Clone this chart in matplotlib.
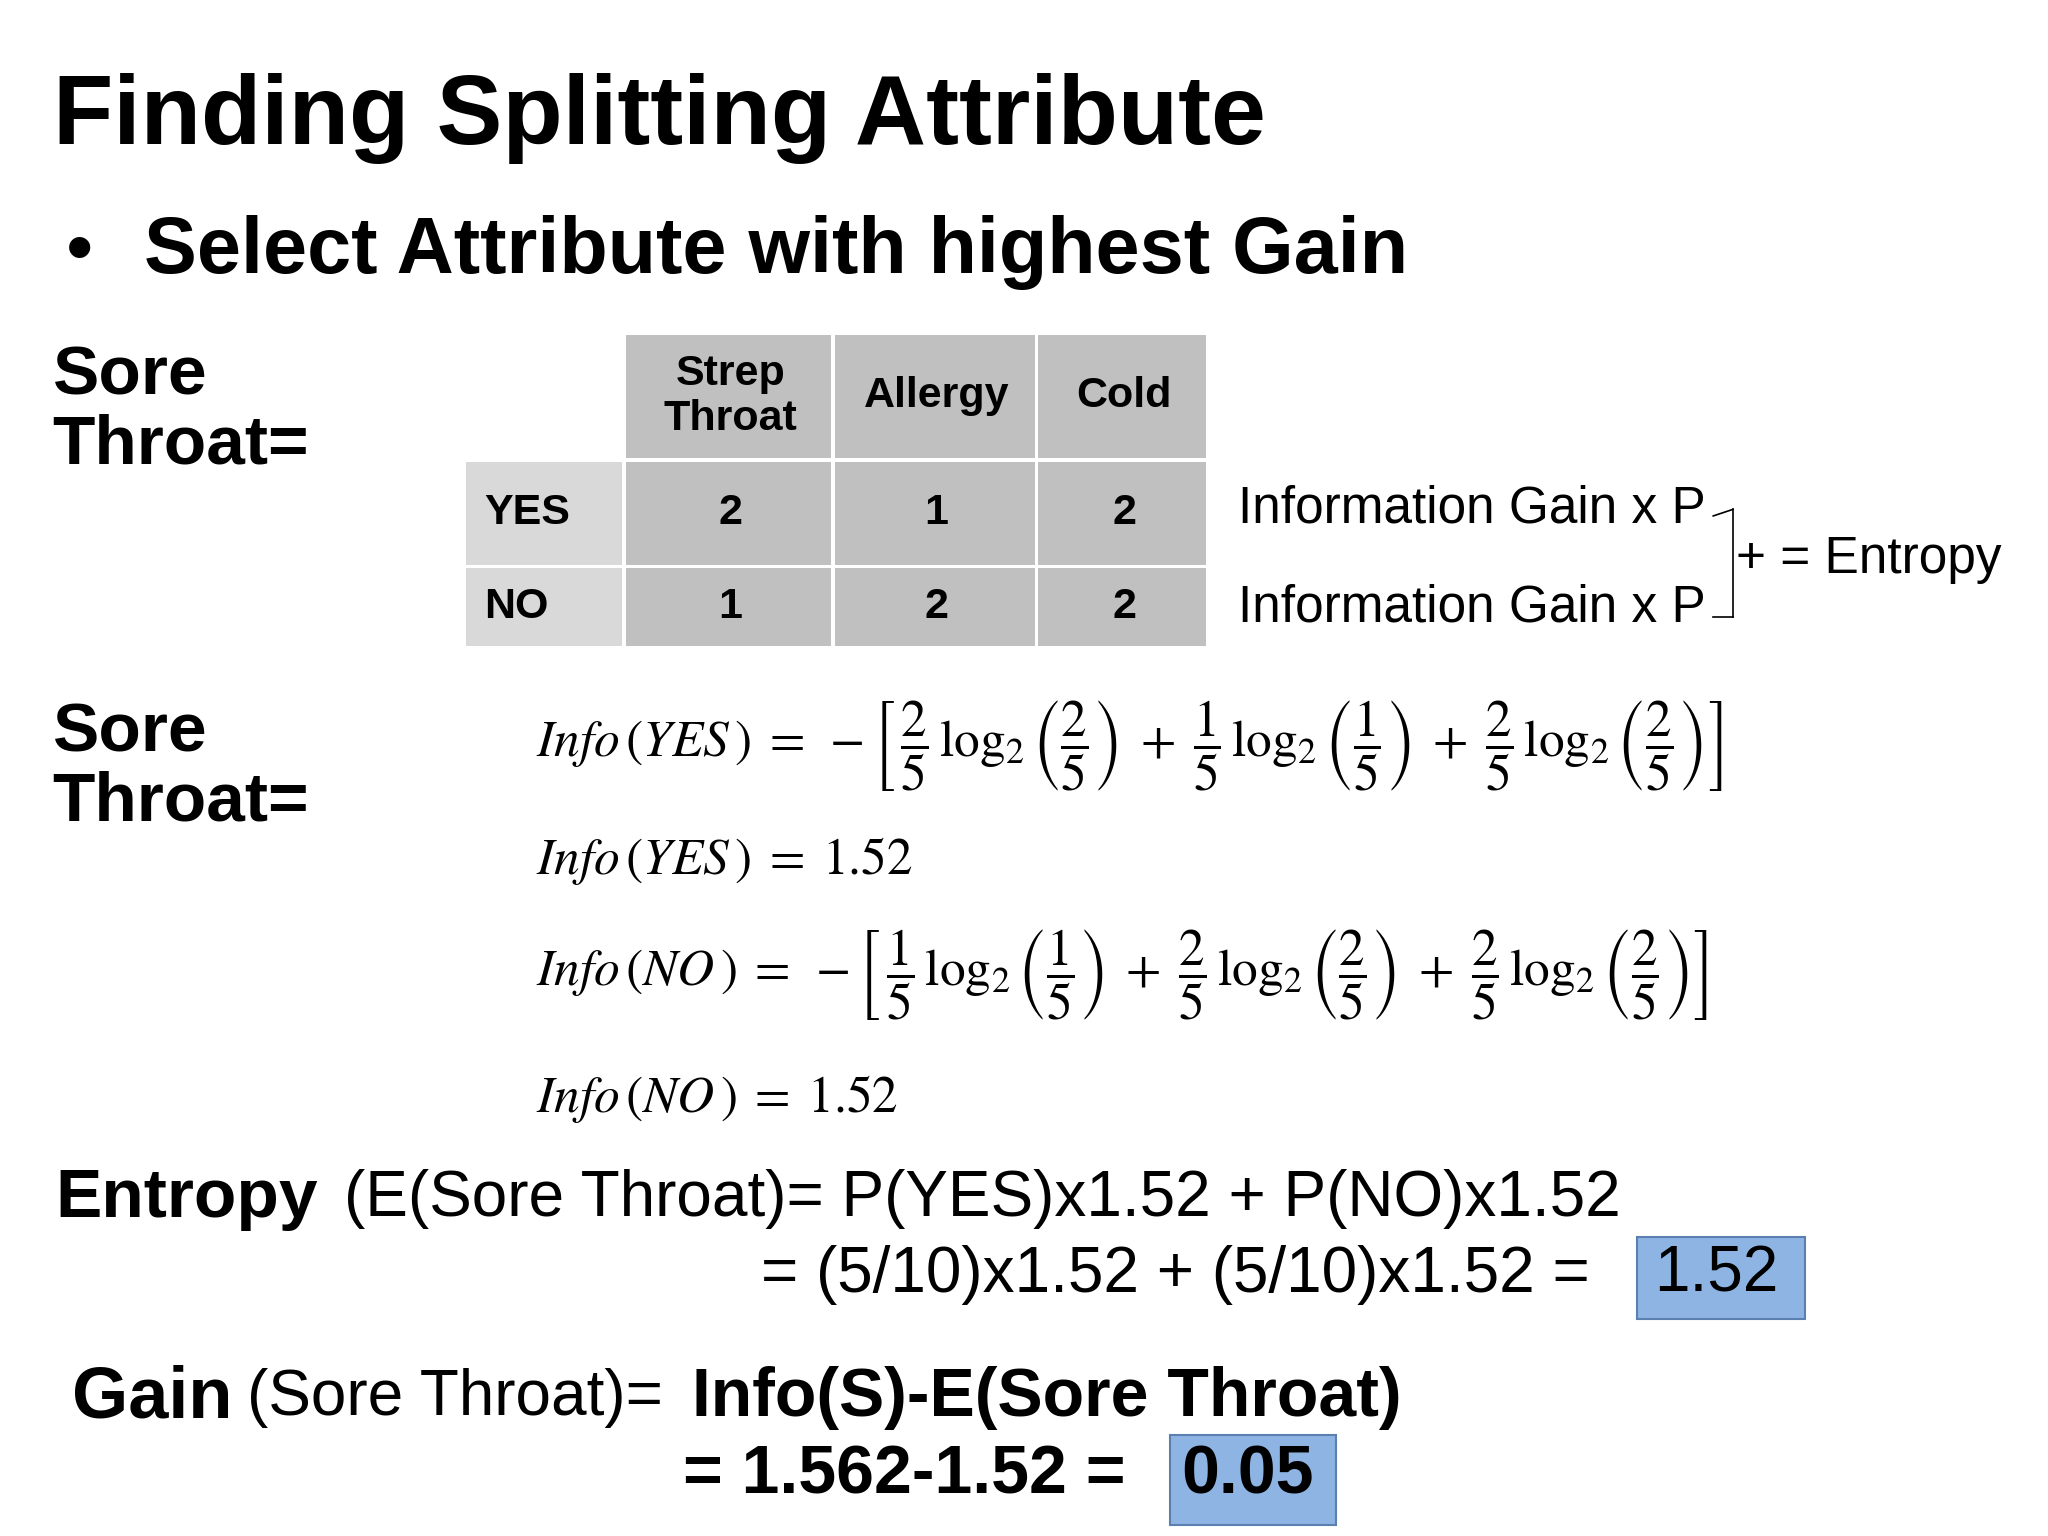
import matplotlib.pyplot as plt
from matplotlib import patches
from matplotlib.lines import Line2D

plt.rcParams['mathtext.fontset'] = 'stix'

W, H = 1560, 1170  # layout grid the positions below are measured in

title = "Finding Splitting Attribute"
bullet = "Select Attribute with highest Gain"
col_labels = ["Strep\nThroat", "Allergy", "Cold"]
row_labels = ["YES", "NO"]
counts = [[2, 1, 2], [1, 2, 2]]
info_yes = 1.52
info_no = 1.52
info_s = 1.562
entropy = 1.52
gain = 0.05

fig = plt.figure(figsize=(20.48, 15.36), dpi=100)
fig.patch.set_facecolor('white')


def fx(x):
    return x / W


def fy(y):
    return 1 - y / H


def txt(x, y, s, size, weight='normal', family='Arial', **kw):
    fig.text(fx(x), fy(y), s, fontsize=size, fontweight=weight,
             family=[family, 'Liberation Sans', 'DejaVu Sans'], va='center', **kw)


txt(40, 90, title, 71, 'bold')
txt(50, 192, "•", 56)
txt(110, 192, bullet, 57, 'bold')
txt(40, 313, "Sore\nThroat=", 50, 'bold', linespacing=1.1)
txt(40, 585, "Sore\nThroat=", 50, 'bold', linespacing=1.1)

# table
xs = [355, 477, 636, 791, 922]
ys = [255, 352, 433, 495]
gap = 3


def cell(x0, x1, y0, y1, color, label):
    fig.patches.append(patches.Rectangle((fx(x0), fy(y1 - gap)), fx(x1 - x0 - gap), (y1 - y0 - gap) / H,
                                         transform=fig.transFigure, facecolor=color, edgecolor='none'))
    ha = 'center' if x0 > 400 else 'left'
    tx = (x0 + x1) / 2 if ha == 'center' else x0 + 14
    fig.text(fx(tx), fy((y0 + y1 - gap) / 2), label, fontsize=31, fontweight='bold',
             family=['Liberation Sans', 'DejaVu Sans'], ha=ha, va='center', linespacing=1.15)


for j, lab in enumerate(col_labels):
    cell(xs[j + 1], xs[j + 2], ys[0], ys[1], '#c0c0c0', lab)
for i, lab in enumerate(row_labels):
    cell(xs[0], xs[1], ys[i + 1], ys[i + 2], '#d9d9d9', lab)
    for j in range(3):
        cell(xs[j + 1], xs[j + 2], ys[i + 1], ys[i + 2], '#c0c0c0', str(counts[i][j]))

txt(943, 388, "Information Gain x P", 37, family='Liberation Sans')
txt(943, 463, "Information Gain x P", 37, family='Liberation Sans')
txt(1322, 426, "+ = Entropy", 37, family='Liberation Sans')
for seg in [((1305, 1320), (393, 388)), ((1320, 1320), (388, 470)), ((1305, 1320), (470, 470))]:
    fig.lines.append(Line2D([fx(v) for v in seg[0]], [fy(v) for v in seg[1]],
                            transform=fig.transFigure, color='black', lw=1.2))


def fr(a, b):
    return r'\dfrac{%d}{%d}\,\log_2\left(\dfrac{%d}{%d}\right)' % (a, b, a, b)


yes_f = r'$Info\,(YES\,)\;=\;-\left[\,' + fr(2, 5) + r'\;+\;' + fr(1, 5) + r'\;+\;' + fr(2, 5) + r'\right]$'
no_f = r'$Info\,(NO\,)\;=\;-\left[\,' + fr(1, 5) + r'\;+\;' + fr(2, 5) + r'\;+\;' + fr(2, 5) + r'\right]$'
fig.text(fx(408), fy(568), yes_f, fontsize=37, va='center')
fig.text(fx(408), fy(656), r'$Info\,(YES\,)\;=\;%.2f$' % info_yes, fontsize=37, va='center')
fig.text(fx(408), fy(742), no_f, fontsize=37, va='center')
fig.text(fx(408), fy(837), r'$Info\,(NO\,)\;=\;%.2f$' % info_no, fontsize=37, va='center')

# entropy
txt(42, 913, "Entropy", 50, 'bold')
txt(262, 913, "(E(Sore Throat)= P(YES)x%.2f + P(NO)x%.2f" % (info_yes, info_no), 46)
txt(580, 971, "= (5/10)x%.2f + (5/10)x%.2f =" % (info_yes, info_no), 46)
fig.patches.append(patches.Rectangle((fx(1247), fy(1005)), fx(128), 63 / H, transform=fig.transFigure,
                                     facecolor='#8db4e2', edgecolor='#5a7fb0', lw=1.5))
txt(1260, 971, "%.2f" % entropy, 46)

# gain
txt(55, 1065, "Gain", 52, 'bold')
txt(188, 1065, "(Sore Throat)=", 46)
txt(527, 1065, "Info(S)-E(Sore Throat)", 49, 'bold')
txt(520, 1124, "= %.3f-%.2f =" % (info_s, entropy), 49, 'bold')
fig.patches.append(patches.Rectangle((fx(891), fy(1162)), fx(127), 69 / H, transform=fig.transFigure,
                                     facecolor='#8db4e2', edgecolor='#5a7fb0', lw=1.5))
txt(900, 1124, "%.2f" % gain, 49, 'bold')

fig.savefig('out.png', dpi=100)
